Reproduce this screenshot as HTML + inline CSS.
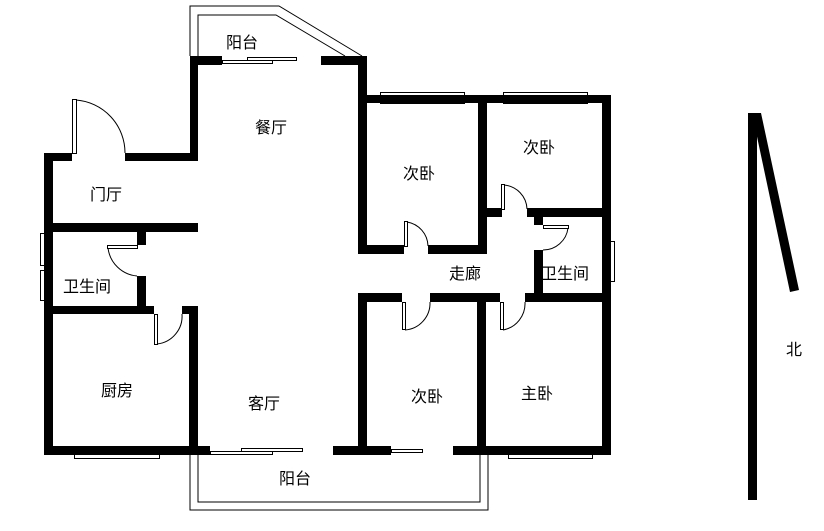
<!DOCTYPE html><html><head><style>body{margin:0;background:#fff}svg{display:block}text{font-family:"Liberation Sans","Noto Sans CJK SC",sans-serif;font-size:16px;fill:#000}</style></head><body>
<svg width="824" height="531" viewBox="0 0 824 531" xmlns="http://www.w3.org/2000/svg">
<g fill="none" stroke="#000" stroke-width="1">
<!-- top balcony -->
<polyline points="190,56 190,6 279,6 362,56"/>
<polyline points="198,56 198,15 276,15 345,56"/>
<rect x="222.5" y="60.5" width="50" height="3"/><rect x="247.5" y="57.5" width="49" height="3"/>
<!-- bottom balcony -->
<polyline points="190,455 190,510 488,510 488,455"/>
<polyline points="198,455 198,502 480,502 480,455"/>
<rect x="210.5" y="451.5" width="62" height="3"/><rect x="241.5" y="448.5" width="61" height="3"/>
<rect x="391.5" y="449.5" width="31" height="3"/>
<!-- windows -->
<rect x="74.5" y="446.5" width="85" height="12"/><line x1="83" y1="450" x2="152" y2="450"/><line x1="83" y1="453" x2="152" y2="453"/>
<rect x="508.5" y="446.5" width="84" height="12"/><line x1="515" y1="450" x2="586" y2="450"/><line x1="515" y1="453" x2="586" y2="453"/>
<rect x="380.5" y="92.5" width="84" height="11"/><line x1="389" y1="97" x2="457" y2="97"/><line x1="389" y1="100" x2="457" y2="100"/>
<rect x="503.5" y="92.5" width="84" height="11"/><line x1="511" y1="97" x2="580" y2="97"/><line x1="511" y1="100" x2="580" y2="100"/>
<rect x="40.5" y="233.5" width="12" height="32"/><rect x="40.5" y="270.5" width="12" height="30"/>
<rect x="604.5" y="241.5" width="10" height="40"/>
<!-- doors -->
<rect x="72.5" y="99.5" width="4" height="54"/><path d="M76,100 A53,53 0 0 1 125,153"/>
<rect x="107.5" y="245.5" width="30" height="3"/><path d="M108,248 A32,32 0 0 0 137,276"/>
<rect x="154.5" y="314.5" width="3" height="30"/><path d="M157,344 A28,28 0 0 0 182,314"/>
<rect x="404.5" y="221.5" width="3" height="25"/><path d="M407,222 A25,25 0 0 1 428,246"/>
<rect x="501.5" y="184.5" width="3" height="25"/><path d="M504,185 A25,25 0 0 1 527,209"/>
<rect x="543.5" y="225.5" width="25" height="3"/><path d="M568,228 A25,25 0 0 1 543,250"/>
<rect x="402.5" y="302.5" width="3" height="27"/><path d="M405,330 A27,27 0 0 0 430,302"/>
<rect x="500.5" y="302.5" width="3" height="27"/><path d="M503,330 A27,27 0 0 0 525,302"/>
</g>
<g fill="#000">
<rect x="190" y="56" width="32" height="9"/><rect x="321" y="56" width="46" height="9"/>
<rect x="190" y="56" width="8" height="105"/>
<rect x="125" y="153" width="73" height="8"/><rect x="44" y="153" width="28" height="8"/>
<rect x="44" y="153" width="9" height="302"/>
<rect x="44" y="223" width="154" height="9"/>
<rect x="137" y="231" width="9" height="14"/><rect x="137" y="276" width="9" height="38"/>
<rect x="44" y="306" width="110" height="8"/><rect x="182" y="306" width="16" height="8"/>
<rect x="189" y="306" width="9" height="149"/>
<rect x="44" y="446" width="166" height="9"/>
<rect x="333" y="446" width="58" height="9"/><rect x="453" y="446" width="158" height="9"/>
<rect x="358" y="56" width="9" height="198"/>
<rect x="358" y="95" width="253" height="8"/>
<rect x="602" y="95" width="9" height="360"/>
<rect x="478" y="95" width="9" height="159"/>
<rect x="358" y="245" width="46" height="9"/><rect x="428" y="245" width="59" height="9"/>
<rect x="478" y="208" width="24" height="9"/><rect x="527" y="208" width="84" height="9"/>
<rect x="534" y="208" width="9" height="17"/><rect x="534" y="250" width="9" height="52"/>
<rect x="358" y="293" width="44" height="9"/><rect x="430" y="293" width="70" height="9"/><rect x="525" y="293" width="86" height="9"/>
<rect x="358" y="293" width="9" height="162"/>
<rect x="477" y="293" width="9" height="162"/>
<polygon points="748,113 757,113 757,500 748,500"/>
<polygon points="752,113 761,113 799,290 790,292"/>
</g>
<text x="226" y="48">阳台</text><text x="255" y="133">餐厅</text><text x="90" y="200">门厅</text>
<text x="63" y="292">卫生间</text><text x="101" y="396">厨房</text><text x="248" y="409">客厅</text>
<text x="279" y="484">阳台</text><text x="403" y="179">次卧</text><text x="523" y="153">次卧</text>
<text x="449" y="279">走廊</text><text x="541" y="279">卫生间</text><text x="411" y="402">次卧</text>
<text x="521" y="399">主卧</text><text x="786" y="355">北</text>
</svg></body></html>
